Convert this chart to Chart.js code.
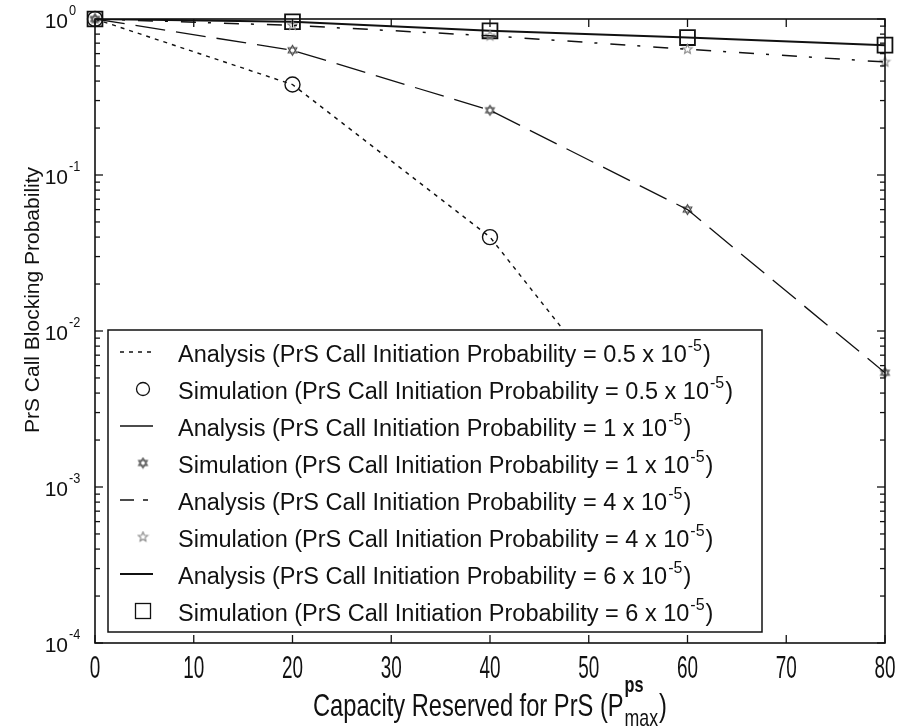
<!DOCTYPE html>
<html>
<head>
<meta charset="utf-8">
<title>PrS Call Blocking Probability</title>
<script src="https://cdn.jsdelivr.net/npm/chart.js@4.4.1/dist/chart.umd.min.js"></script>
<style>
  html, body { margin: 0; padding: 0; background: #fff; }
  #wrap { width: 900px; height: 727px; }
</style>
</head>
<body>
<div id="wrap"><canvas id="blockingChart" width="900" height="727"></canvas></div>
<script>
// capacity reserved for PrS (x axis)
const capacity = [0, 20, 40, 60, 80];

// analysis curves, one per PrS call initiation probability
// (0.5e-5 at 80 falls far below 1e-4, left out)
const analysis05 = [1, 0.38, 0.040, 0.001, null];
const analysis1 = [1, 0.63, 0.26, 0.06, 0.0054];
const analysis4 = [1, 0.91, 0.78, 0.64, 0.53];
const analysis6 = [1, 0.96, 0.84, 0.76, 0.68];

// simulation points
const simulation05 = [1, 0.38, 0.040, 0.001, null];
const simulation1 = [1, 0.63, 0.26, 0.06, 0.0054];
const simulation4 = [1, 0.91, 0.78, 0.64, 0.53];
const simulation6 = [1, 0.96, 0.84, 0.76, 0.68];

// legend text pieces
const initProbs = ['0.5', '0.5', '1', '1', '4', '4', '6', '6'];
const legendKinds = ['Analysis', 'Simulation', 'Analysis', 'Simulation', 'Analysis', 'Simulation', 'Analysis', 'Simulation'];

// axis ticks
const xTicks = [0, 10, 20, 30, 40, 50, 60, 70, 80];
const yDecades = [-4, -3, -2, -1, 0];

const FONT = '"Liberation Sans", Arial, sans-serif';
const INK = '#111';

function points(values) {
  return capacity.map((c, i) => ({x: c, y: values[i]}));
}

// small canvases used as point styles
function makeMarker(kind, size, color) {
  const c = document.createElement('canvas');
  c.width = size; c.height = size;
  const g = c.getContext('2d');
  const m = size / 2, r = size / 2 - 1.5;
  g.strokeStyle = color;
  g.lineWidth = 1.1;
  if (kind === 'hexagram') {
    [-90, 90].forEach(start => {
      g.beginPath();
      for (let k = 0; k < 3; k++) {
        const t = (start + k * 120) * Math.PI / 180;
        const px = m + r * Math.cos(t), py = m + r * Math.sin(t);
        k ? g.lineTo(px, py) : g.moveTo(px, py);
      }
      g.closePath();
      g.stroke();
    });
  } else {
    g.beginPath();
    for (let k = 0; k < 10; k++) {
      const t = (-90 + k * 36) * Math.PI / 180;
      const rr = k % 2 ? r * 0.45 : r;
      const px = m + rr * Math.cos(t), py = m + rr * Math.sin(t);
      k ? g.lineTo(px, py) : g.moveTo(px, py);
    }
    g.closePath();
    g.stroke();
  }
  return c;
}
const hexMark = makeMarker('hexagram', 13, '#444');
const starMark = makeMarker('star', 13, '#888');

const datasets = [
  {data: points(analysis05), borderColor: INK, borderWidth: 1.4, borderDash: [4, 5], legendDash: [4, 5], pointRadius: 0},
  {data: points(simulation05), showLine: false, pointStyle: 'circle', pointRadius: 7.5, pointBorderWidth: 1.4,
   pointBorderColor: INK, pointBackgroundColor: 'rgba(0,0,0,0)', clip: false, marker: 'circle'},
  {data: points(analysis1), borderColor: INK, borderWidth: 1.3, borderDash: [30, 11], legendDash: [], pointRadius: 0},
  {data: points(simulation1), showLine: false, pointStyle: hexMark, clip: false, marker: 'hexagram'},
  {data: points(analysis4), borderColor: INK, borderWidth: 1.5, borderDash: [15, 12, 3, 13], legendDash: [14, 9, 5, 9], pointRadius: 0},
  {data: points(simulation4), showLine: false, pointStyle: starMark, clip: false, marker: 'star'},
  {data: points(analysis6), borderColor: INK, borderWidth: 2, borderDash: [], legendDash: [], pointRadius: 0},
  {data: points(simulation6), showLine: false, pointStyle: 'rect', pointRadius: 10.5, pointBorderWidth: 1.8,
   pointBorderColor: INK, pointBackgroundColor: 'rgba(0,0,0,0)', clip: false, marker: 'square'}
];
datasets.forEach(d => { d.fill = false; d.tension = 0; });

// text helper with optional horizontal squeeze
function put(ctx, str, x, y, size, sx, align, weight) {
  ctx.save();
  ctx.font = (weight || '') + ' ' + size + 'px ' + FONT;
  const w = ctx.measureText(str).width * sx;
  const left = align === 'center' ? x - w / 2 : align === 'right' ? x - w : x;
  ctx.translate(left, y);
  ctx.scale(sx, 1);
  ctx.fillStyle = INK;
  ctx.textAlign = 'left';
  ctx.textBaseline = 'alphabetic';
  ctx.fillText(str, 0, 0);
  ctx.restore();
  return left + w;
}
function width(ctx, str, size, sx, weight) {
  ctx.save();
  ctx.font = (weight || '') + ' ' + size + 'px ' + FONT;
  const w = ctx.measureText(str).width * sx;
  ctx.restore();
  return w;
}
function seg(ctx, x1, y1, x2, y2) {
  ctx.beginPath(); ctx.moveTo(x1, y1); ctx.lineTo(x2, y2); ctx.stroke();
}

const frame = {
  id: 'frame',
  afterDatasetsDraw(chart) {
    const {ctx, chartArea: a, scales: {x, y}} = chart;
    ctx.save();
    ctx.strokeStyle = INK;
    ctx.lineWidth = 1.6;
    ctx.strokeRect(a.left, a.top, a.right - a.left, a.bottom - a.top);

    // x ticks and labels
    ctx.lineWidth = 1.3;
    xTicks.forEach(v => {
      const px = x.getPixelForValue(v);
      seg(ctx, px, a.bottom, px, a.bottom - 8);
      seg(ctx, px, a.top, px, a.top + 8);
      put(ctx, String(v), px, 678, 31, 0.61, 'center');
    });

    // y ticks (log, with minor ticks) and labels
    yDecades.forEach(d => {
      const base = Math.pow(10, d);
      const py = y.getPixelForValue(base);
      seg(ctx, a.left, py, a.left + 8, py);
      seg(ctx, a.right, py, a.right - 8, py);
      if (d < 0) {
        for (let m = 2; m <= 9; m++) {
          const pm = y.getPixelForValue(m * base);
          seg(ctx, a.left, pm, a.left + 5, pm);
          seg(ctx, a.right, pm, a.right - 5, pm);
        }
      }
      put(ctx, '10', 68, py + 9, 21, 1, 'right');
      put(ctx, d === 0 ? '0' : '-' + Math.abs(d), 69, py - 4, 15, 0.85, 'left');
    });

    // x title
    const cx = (a.left + a.right) / 2;
    const main = 'Capacity Reserved for PrS (P';
    const wMain = width(ctx, main, 32, 0.74);
    const wSup = width(ctx, 'ps', 22, 0.74, 'bold');
    const wSub = width(ctx, 'max', 24, 0.74);
    const wClose = width(ctx, ')', 32, 0.74);
    let sx0 = cx - (wMain + Math.max(wSup, wSub) + 2 + wClose) / 2;
    const after = put(ctx, main, sx0, 716, 32, 0.74, 'left');
    put(ctx, 'ps', after + 1, 692, 22, 0.74, 'left', 'bold');
    put(ctx, 'max', after + 1, 726, 24, 0.74, 'left');
    put(ctx, ')', after + 2 + Math.max(wSup, wSub), 716, 32, 0.74, 'left');

    // y title
    ctx.save();
    ctx.translate(33, 300);
    ctx.rotate(-Math.PI / 2);
    ctx.font = '21px ' + FONT;
    ctx.fillStyle = INK;
    ctx.textAlign = 'center';
    ctx.textBaseline = 'middle';
    ctx.fillText('PrS Call Blocking Probability', 0, 0);
    ctx.restore();
    ctx.restore();
  }
};

const legendBox = {
  id: 'legendBox',
  afterDraw(chart) {
    const ctx = chart.ctx;
    const box = {left: 108, top: 330, right: 762, bottom: 632};
    ctx.save();
    ctx.fillStyle = '#fff';
    ctx.fillRect(box.left, box.top, box.right - box.left, box.bottom - box.top);
    ctx.strokeStyle = INK;
    ctx.lineWidth = 1.5;
    ctx.strokeRect(box.left, box.top, box.right - box.left, box.bottom - box.top);

    chart.data.datasets.forEach((ds, i) => {
      const ry = 354 + i * 37;
      if (ds.marker) {
        const mx = 143, my = ry - 2;
        ctx.lineWidth = 1.3;
        ctx.strokeStyle = INK;
        if (ds.marker === 'circle') {
          ctx.beginPath(); ctx.arc(mx, my, 6.5, 0, Math.PI * 2); ctx.stroke();
        } else if (ds.marker === 'square') {
          ctx.strokeRect(mx - 7.5, my - 7.5, 15, 15);
        } else {
          const img = ds.marker === 'hexagram' ? hexMark : starMark;
          ctx.drawImage(img, mx - img.width / 2, my - img.height / 2);
        }
      } else {
        ctx.strokeStyle = INK;
        ctx.lineWidth = ds.borderWidth;
        ctx.setLineDash(ds.legendDash);
        seg(ctx, 120, ry - 2, 153, ry - 2);
        ctx.setLineDash([]);
      }
      const txt = legendKinds[i] + ' (PrS Call Initiation Probability = ' + initProbs[i] + ' x 10';
      const end = put(ctx, txt, 178, ry + 8, 23.5, 1, 'left');
      const end2 = put(ctx, '-5', end + 1, ry - 3, 16, 1, 'left');
      put(ctx, ')', end2 + 1, ry + 8, 23.5, 1, 'left');
    });
    ctx.restore();
  }
};

new Chart(document.getElementById('blockingChart'), {
  type: 'line',
  data: {datasets: datasets},
  options: {
    responsive: false,
    animation: false,
    devicePixelRatio: 1,
    layout: {padding: {left: 0, right: 15, top: 19, bottom: 0}},
    plugins: {legend: {display: false}, tooltip: {enabled: false}},
    scales: {
      x: {
        type: 'linear', min: 0, max: 80,
        grid: {display: false}, border: {display: false}, ticks: {display: false},
        afterFit: s => { s.height = 84; }
      },
      y: {
        type: 'logarithmic', min: 0.0001, max: 1,
        grid: {display: false}, border: {display: false}, ticks: {display: false},
        afterFit: s => { s.width = 95; }
      }
    }
  },
  plugins: [frame, legendBox]
});
</script>
</body>
</html>
